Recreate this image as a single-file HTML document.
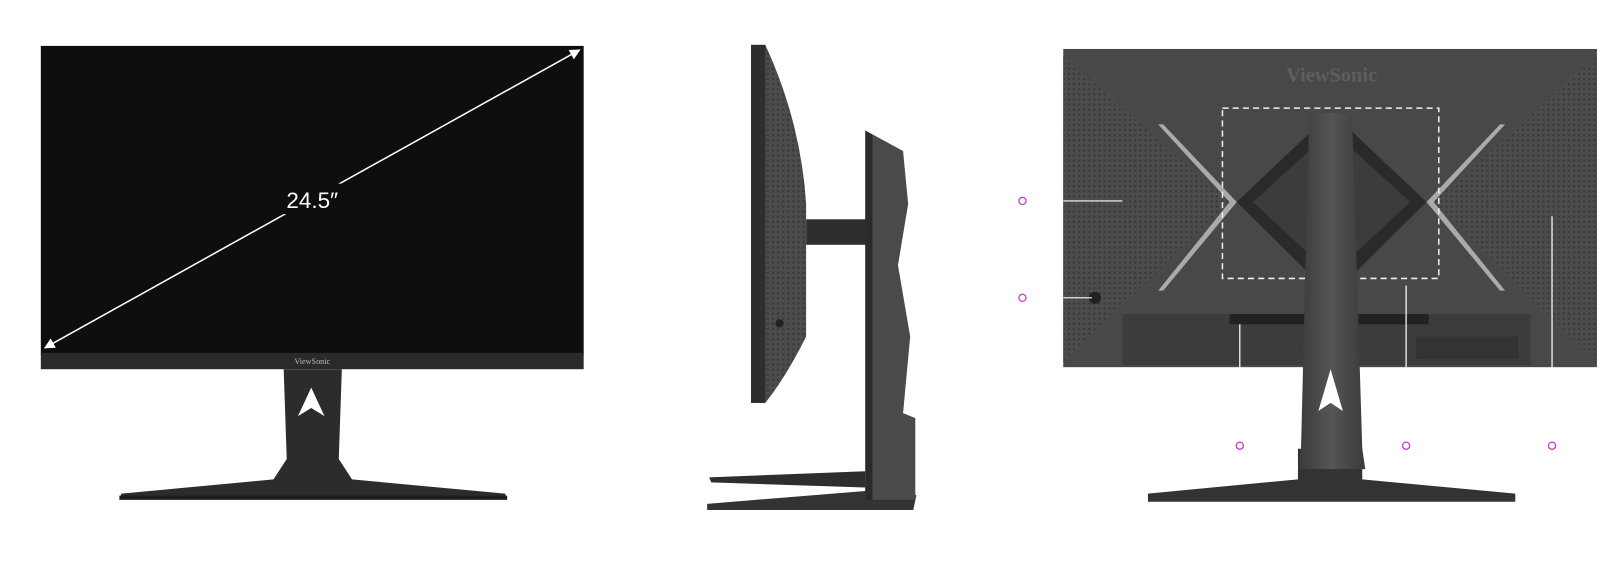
<!DOCTYPE html>
<html><head><style>
html,body{margin:0;padding:0;background:#fff;}
svg{display:block}
</style></head><body>
<svg width="1600" height="563" viewBox="0 0 1568 552" preserveAspectRatio="none" xmlns="http://www.w3.org/2000/svg">
<defs>
<pattern id="dots" width="5" height="5" patternUnits="userSpaceOnUse">
<rect width="5" height="5" fill="#4c4c4c"/><circle cx="2.5" cy="2.5" r="1.2" fill="#3a3a3a"/>
</pattern>
<linearGradient id="col" x1="0" x2="1"><stop offset="0" stop-color="#3a3a3a"/><stop offset="0.5" stop-color="#555"/><stop offset="1" stop-color="#3a3a3a"/></linearGradient>
<marker id="ah" viewBox="0 0 10 10" refX="9" refY="5" markerWidth="7" markerHeight="7" orient="auto-start-reverse"><path d="M0,0 L10,5 L0,10 Z" fill="#fff"/></marker>
</defs>

<!-- FRONT -->
<polygon points="278,362 335,362 332,450 345,470 495,484 497,490 117,490 119,484 268,470 281,450" fill="#2c2c2c"/>
<polygon points="117,486 497,486 497,490 117,490" fill="#1e1e1e"/>
<polygon points="305,380 318,408 305,400 292,408" fill="#fff"/>
<rect x="40" y="45" width="532" height="303" fill="#0e0e0e"/>
<rect x="40" y="346" width="532" height="16" fill="#2a2a2a"/>
<text x="306" y="357" font-family="Liberation Serif,serif" font-size="8" fill="#bbb" text-anchor="middle">ViewSonic</text>
<line x1="44" y1="341" x2="568" y2="49" stroke="#fff" stroke-width="1.5" marker-start="url(#ah)" marker-end="url(#ah)"/>
<rect x="270" y="180" width="70" height="30" fill="#0e0e0e"/>
<text x="306" y="204" font-family="Liberation Sans,sans-serif" font-size="22" fill="#fff" text-anchor="middle">24.5″</text>

<!-- SIDE -->
<polygon points="695,468 848,462 848,478 697,473" fill="#2e2e2e"/>
<polygon points="693,494 890,478 898,486 895,500 693,500" fill="#333"/>
<polygon points="848,128 885,148 890,200 880,260 892,330 885,405 897,410 897,490 848,490" fill="#4a4a4a"/>
<polygon points="848,128 855,132 855,490 848,490" fill="#2a2a2a"/>
<rect x="790" y="215" width="60" height="25" fill="#2e2e2e"/>
<path d="M736,44 L750,44 Q785,120 790,200 L790,330 Q770,370 750,395 L736,395 Z" fill="url(#dots)"/>
<rect x="736" y="44" width="14" height="351" fill="#2e2e2e"/>
<circle cx="764" cy="317" r="4" fill="#222"/>

<!-- BACK -->
<polygon points="1125,484 1272,470 1272,440 1335,440 1335,470 1485,484 1485,492 1125,492" fill="#333"/>
<rect x="1042" y="48" width="523" height="312" fill="#484848"/>
<polygon points="1042,55 1205,198 1042,355" fill="url(#dots)"/>
<polygon points="1565,55 1405,198 1565,355" fill="url(#dots)"/>
<polygon points="1135,122 1205,198 1135,285 1140,285 1212,198 1140,122" fill="#aaa"/>
<polygon points="1475,122 1405,198 1475,285 1470,285 1398,198 1470,122" fill="#aaa"/>
<polygon points="1212,198 1305,110 1398,198 1305,290" fill="#2a2a2a"/>
<polygon points="1228,198 1305,128 1382,198 1305,270" fill="#3c3c3c"/>
<rect x="1100" y="308" width="400" height="50" fill="#3c3c3c"/>
<rect x="1205" y="308" width="195" height="10" fill="#222"/>
<rect x="1388" y="330" width="100" height="22" fill="#333"/>
<text x="1305" y="80" font-family="Liberation Serif,serif" font-size="20" font-weight="bold" fill="#5e5e5e" text-anchor="middle">ViewSonic</text>
<rect x="1198" y="106" width="212" height="167" fill="none" stroke="#eee" stroke-width="1.5" stroke-dasharray="6,4"/>
<path d="M1283,115 Q1303,106 1325,115 L1335,440 L1338,460 1272,460 1275,440 Z" fill="url(#col)"/>
<polygon points="1304,362 1316,403 1304,395 1292,403" fill="#fff"/>
<circle cx="1073" cy="292" r="6" fill="#222"/>
<g stroke="#fff" stroke-width="1.2">
<line x1="1042" y1="197" x2="1100" y2="197"/>
<line x1="1042" y1="292" x2="1070" y2="292"/>
<line x1="1215" y1="318" x2="1215" y2="363"/>
<line x1="1378" y1="280" x2="1378" y2="360"/>
<line x1="1521" y1="212" x2="1521" y2="362"/>
</g>
<g fill="none" stroke="#c040c8" stroke-width="1.3">
<circle cx="1002" cy="197" r="3.5"/>
<circle cx="1002" cy="292" r="3.5"/>
<circle cx="1215" cy="437" r="3.5"/>
<circle cx="1378" cy="437" r="3.5"/>
<circle cx="1521" cy="437" r="3.5"/>
</g>
</svg>
</body></html>
